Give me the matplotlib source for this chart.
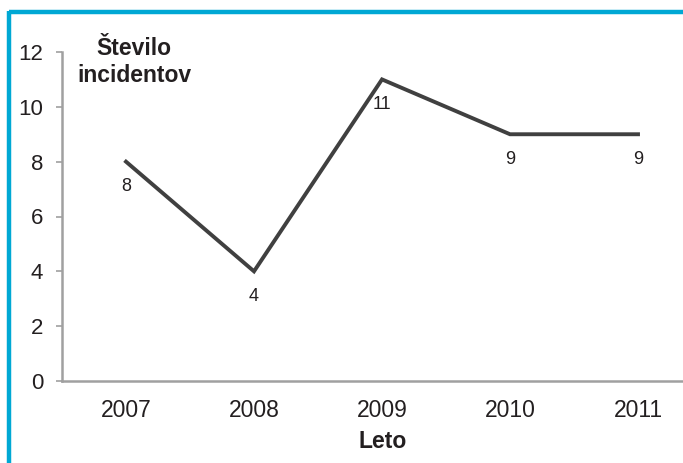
import matplotlib.pyplot as plt
from matplotlib.lines import Line2D

plt.rcParams['font.family'] = ['Liberation Sans', 'DejaVu Sans']

years = ['2007', '2008', '2009', '2010', '2011']
incidents = [8, 4, 11, 9, 9]

fig = plt.figure(figsize=(6.83, 4.63), dpi=100)
W, H = 683, 463

# axes: y axis at x=62, 0 at y=381, 12 at y=52; categories spaced 128 px starting at 127
ax = fig.add_axes([62 / W, (H - 381) / H, 640 / W, 329 / H])
x = range(len(years))
ax.plot(x, incidents, color='#404040', lw=2.8, solid_joinstyle='miter')
for xi, v in zip(x, incidents):
    ax.annotate(str(v), (xi, v), xytext=(0, -18), textcoords='offset points',
                ha='center', va='center', fontsize=13, color='#231f20')

ax.set_xlim(-0.5, 4.5)
ax.set_ylim(0, 12)
ax.set_yticks(range(0, 13, 2))
ax.set_xticks(list(x))
ax.set_xticklabels(years)
ax.tick_params(axis='y', length=4.5, width=1.2, color='#a0a0a0', labelsize=16,
               labelcolor='#231f20', pad=9)
ax.tick_params(axis='x', length=0, labelsize=16.5, labelcolor='#231f20', pad=13)
for s in ['top', 'right']:
    ax.spines[s].set_visible(False)
for s in ['left', 'bottom']:
    ax.spines[s].set_color('#a0a0a0')
    ax.spines[s].set_linewidth(1.8)

fig.text(134 / W, 1 - 62 / H, 'Število\nincidentov', ha='center', va='center',
         fontsize=16.5, fontweight='bold', color='#231f20', linespacing=1.2)
fig.text(383 / W, 1 - 441 / H, 'Leto', ha='center', va='center',
         fontsize=16.5, fontweight='bold', color='#231f20')

# cyan frame on top and left
frame = '#00a8d4'
fig.add_artist(Line2D([9 / W, 1], [1 - 12 / H, 1 - 12 / H], color=frame, lw=3.2,
                      transform=fig.transFigure, solid_capstyle='butt'))
fig.add_artist(Line2D([9 / W, 9 / W], [0, 1 - 10.5 / H], color=frame, lw=3.2,
                      transform=fig.transFigure, solid_capstyle='butt'))

fig.savefig('out.png', dpi=100)
